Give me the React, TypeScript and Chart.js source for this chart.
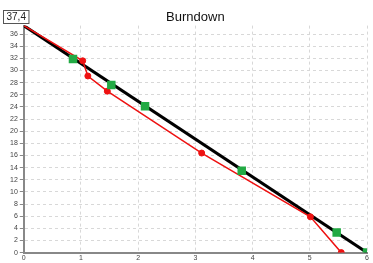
import React, { useEffect, useRef } from "react";
import { Chart, registerables } from "chart.js";

Chart.register(...registerables);

const startValue = 37.4;
const sprintDays = 6;
const idealX = [0, sprintDays];
const idealY = [startValue, 0];
const plannedX = [0.86, 1.53, 2.12, 3.81, 5.47, 6.0];
const plannedY = [31.9, 27.6, 24.1, 13.5, 3.3, 0];
const actualX = [0, 1.03, 1.12, 1.46, 3.11, 5.01, 5.55];
const actualY = [37.4, 31.6, 29.1, 26.6, 16.4, 5.9, 0];
const titleText = "Burndown";
const badgeText = "37,4";

const toPoints = (xs: number[], ys: number[]) => xs.map((x, i) => ({ x, y: ys[i] }));

const badgePlugin = {
  id: "badge",
  afterDraw(chart: any) {
    const ctx = chart.ctx;
    ctx.save();
    // title centred over the plot area
    ctx.font = "13px 'Liberation Sans', Arial, sans-serif";
    ctx.fillStyle = "#111";
    ctx.textAlign = "center";
    ctx.textBaseline = "middle";
    const ca = chart.chartArea;
    ctx.fillText(titleText, (ca.left + ca.right) / 2, 17);
    // value badge
    ctx.font = "10px 'Liberation Sans', Arial, sans-serif";
    ctx.textAlign = "left";
    const w = ctx.measureText(badgeText).width;
    const x = 3, y = 10, h = 13;
    ctx.fillStyle = "#ffffff";
    ctx.fillRect(x, y, w + 6, h);
    ctx.strokeStyle = "#555";
    ctx.lineWidth = 1;
    ctx.strokeRect(x + 0.5, y + 0.5, w + 6, h);
    ctx.fillStyle = "#222";
    ctx.fillText(badgeText, x + 3.5, y + h / 2 + 1);
    ctx.restore();
  },
};

export default function App() {
  const ref = useRef<HTMLCanvasElement>(null);
  useEffect(() => {
    if (!ref.current) return;
    const chart = new Chart(ref.current, {
      type: "scatter",
      data: {
        datasets: [
          {
            label: "Planned",
            data: toPoints(plannedX, plannedY),
            showLine: false,
            pointStyle: "rect",
            pointRadius: 6,
            pointBorderWidth: 0,
            pointBackgroundColor: "#22aa44",
            pointBorderColor: "#22aa44",
            order: 0,
          },
          {
            label: "Actual",
            data: toPoints(actualX, actualY),
            showLine: true,
            borderColor: "#ee1111",
            borderWidth: 1.5,
            pointRadius: actualX.map((_, i) => (i === 0 ? 0 : 3)),
            pointBorderWidth: 1,
            pointBackgroundColor: "#ee1111",
            pointBorderColor: "#ee1111",
            order: 1,
          },
          {
            label: "Ideal",
            data: toPoints(idealX, idealY),
            showLine: true,
            borderColor: "#000000",
            borderWidth: 3,
            pointRadius: 0,
            order: 2,
          },
        ],
      },
      options: {
        animation: false,
        responsive: false,
        layout: { padding: { left: 8, right: 6, top: 25.6, bottom: 0 } },
        plugins: {
          legend: { display: false },
          tooltip: { enabled: false },
          title: { display: false },
        },
        scales: {
          x: {
            type: "linear",
            min: 0,
            max: sprintDays,
            ticks: {
              stepSize: 1,
              font: { family: "'Liberation Sans', Arial, sans-serif", size: 7 },
              color: "#444",
              padding: 1,
            },
            grid: { color: "#d8d8d8", drawTicks: false },
            border: { color: "#888", width: 2, dash: [3, 3] },
          },
          y: {
            type: "linear",
            min: 0,
            max: startValue,
            afterBuildTicks: (scale: any) => {
              scale.ticks = scale.ticks.filter((t: any) => Math.abs(t.value % 2) < 1e-9);
            },
            ticks: {
              stepSize: 2,
              font: { family: "'Liberation Sans', Arial, sans-serif", size: 7 },
              color: "#444",
              padding: 2,
            },
            grid: { color: "#d8d8d8", tickColor: "#888", tickLength: 4, tickBorderDash: [] },
            border: { color: "#888", width: 2, dash: [3, 3] },
          },
        },
      },
      plugins: [badgePlugin],
    });
    return () => chart.destroy();
  }, []);
  return (
    <div style={{ position: "fixed", left: 0, top: 0, width: 373, height: 263, background: "#fff" }}>
      <canvas ref={ref} width={373} height={263} style={{ display: "block" }} />
    </div>
  );
}
